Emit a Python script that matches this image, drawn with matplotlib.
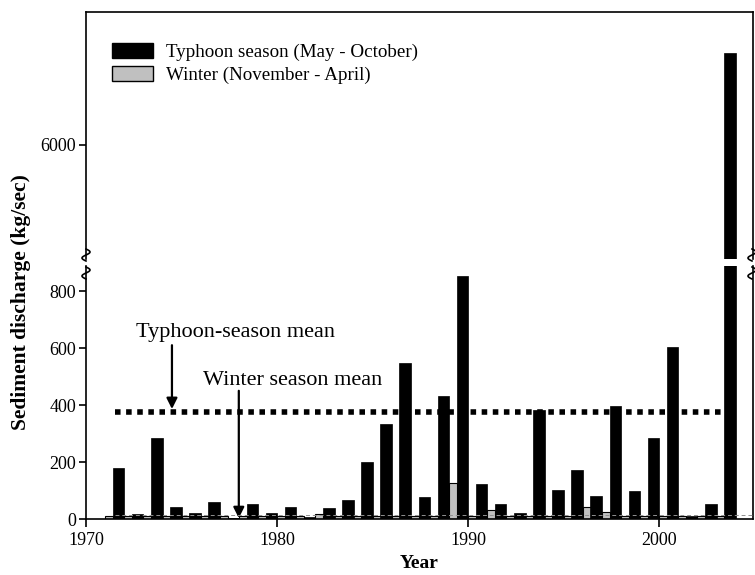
import numpy as np
import matplotlib
matplotlib.use("Agg")
import matplotlib.pyplot as plt
from matplotlib.lines import Line2D
from matplotlib.patches import Patch

plt.rcParams["font.family"] = ["Liberation Serif", "DejaVu Serif"]

# hydrological years (bars drawn just before the year tick)
years = np.arange(1972, 2005)
typhoon = [180, 17, 283, 42, 20, 60, 5, 51, 22, 43, 6, 40, 66, 200, 333, 548,
           78, 430, 852, 122, 53, 22, 383, 101, 171, 80, 396, 98, 285, 605,
           12, 51, 6320]
winter = [12, 12, 12, 12, 12, 12, 12, 12, 12, 12, 12, 16, 12, 12, 12, 12,
          12, 12, 127, 12, 31, 12, 12, 12, 12, 42, 24, 12, 12, 12,
          12, 12, 12]
typhoon_mean = 376
winter_mean = 14

W, H = 755, 575
fig = plt.figure(figsize=(W / 100, H / 100), dpi=100)


def px_axes(x0, y_top, x1, y_bot):
    return fig.add_axes([x0 / W, 1 - y_bot / H, (x1 - x0) / W, (y_bot - y_top) / H])


ax_hi = px_axes(86, 12, 753, 259)
ax_lo = px_axes(86, 266, 753, 519)

for ax in (ax_hi, ax_lo):
    ax.bar(years - 0.79, winter, width=0.42, color="#c0c0c0", edgecolor="black",
           linewidth=0.8, zorder=2)
    ax.bar(years - 0.29, typhoon, width=0.6, color="black", edgecolor="black",
           linewidth=0.5, zorder=3)
    ax.set_xlim(1970, 2004.92)
    for s in ax.spines.values():
        s.set_linewidth(1.2)
    ax.tick_params(axis="y", direction="out", length=5, width=1.2, labelsize=13,
                   pad=2)
    ax.tick_params(axis="x", direction="out", length=6, width=1.2, labelsize=13)

ax_lo.set_ylim(0, 888)
ax_lo.set_yticks([0, 200, 400, 600, 800])
ax_lo.set_xticks([1970, 1980, 1990, 2000])
ax_lo.spines["top"].set_visible(False)

ax_hi.set_ylim(5604, 6461)
ax_hi.set_yticks([6000])
ax_hi.set_xticks([])
ax_hi.spines["bottom"].set_visible(False)

# seasonal means
ax_lo.plot([1971.5, 2003.3], [typhoon_mean] * 2, color="black", lw=4,
           linestyle=(0, (1, 1)), dash_capstyle="butt", zorder=4)
ax_lo.plot([1971.5, 2004.9], [winter_mean] * 2, color="#909090", lw=0.7,
           linestyle=(0, (4, 3)), zorder=4)

ax_lo.text(1972.6, 655, "Typhoon-season mean", fontsize=16, va="center",
           ha="left")
ax_lo.annotate("", xy=(1974.5, 386), xytext=(1974.5, 610),
               arrowprops=dict(arrowstyle="-|>", mutation_scale=16, lw=1.6,
                               color="black", shrinkA=0, shrinkB=0))
ax_lo.text(1976.1, 487, "Winter season mean", fontsize=16, va="center",
           ha="left")
ax_lo.annotate("", xy=(1978.0, 3), xytext=(1978.0, 450),
               arrowprops=dict(arrowstyle="-|>", mutation_scale=16, lw=1.6,
                               color="black", shrinkA=0, shrinkB=0))

ax_lo.set_xlabel("Year", fontsize=14, fontweight="bold", labelpad=4)
fig.text(21 / W, 1 - 302 / H, "Sediment discharge (kg/sec)", rotation=90,
         fontsize=15.5, fontweight="bold", ha="center", va="center")

handles = [Patch(facecolor="black", edgecolor="black"),
           Patch(facecolor="#c0c0c0", edgecolor="black")]
ax_hi.legend(handles, ["Typhoon season (May - October)", "Winter (November - April)"],
             loc="upper left", bbox_to_anchor=(18 / 667, 1 - 23 / 247),
             frameon=False, fontsize=13.7, handlelength=2.2, handleheight=0.85,
             handletextpad=0.65, labelspacing=0.25, borderaxespad=0)


# break marks on the spines
def squiggle(xp, yc, flip=1):
    t = np.linspace(0, 1, 30)
    xs = xp + flip * 4 * np.sin(2 * np.pi * t)
    ys = yc - 6 + 12 * t
    fig.add_artist(Line2D(xs / W, 1 - ys / H, color="black", lw=1.2))


for xp in (86, 752):
    squiggle(xp, 255, 1)
    squiggle(xp, 273, 1)

fig.savefig("out.png", dpi=100)
